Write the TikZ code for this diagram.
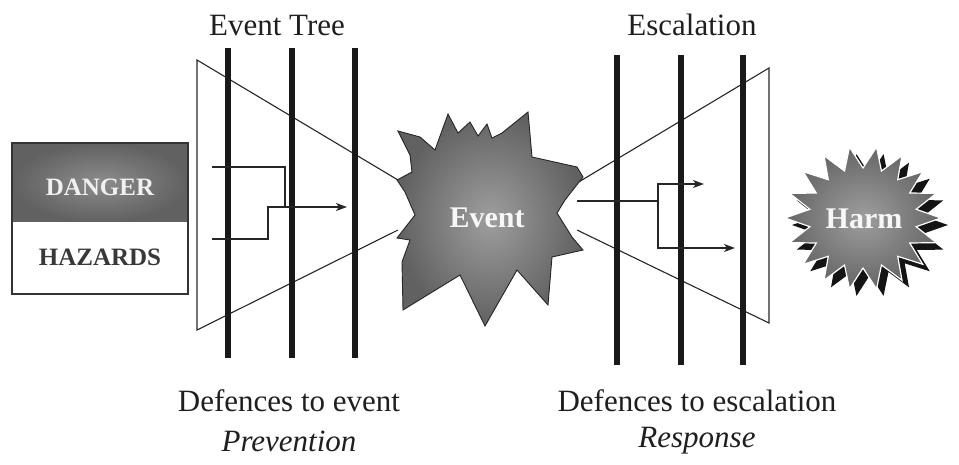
\documentclass[tikz,border=0pt]{standalone}
\usepackage{fontspec}
\setmainfont{Liberation Serif}
\usetikzlibrary{arrows.meta}
\begin{document}
\begin{tikzpicture}[x=1pt,y=-1pt,
  outline/.style={line width=1.1pt, draw=black!85},
  barline/.style={line width=5.5pt, draw=black!90},
  flow/.style={line width=1.4pt, draw=black!85},
  arr/.style={flow, -{Stealth[length=11pt,width=8pt,inset=3pt]}},
  txt/.style={font=\fontsize{31}{36}\selectfont, text=black!88, inner sep=0pt},
  boxtxt/.style={font=\fontsize{25}{30}\selectfont\bfseries, inner sep=0pt},
  burst/.style={font=\fontsize{30}{34}\selectfont\bfseries, text=black!3, inner sep=0pt}]
\useasboundingbox (0,0) rectangle (959,464);

% titles and captions
\node[txt] (tree) at (277,25) {Event Tree};
\node[txt] (esc) at (692,25) {Escalation};
\node[txt] (def1) at (289,401) {Defences to event};
\node[txt,font=\fontsize{31}{36}\selectfont\itshape] (prev) at (289,441) {Prevention};
\node[txt] (def2) at (697,401) {Defences to escalation};
\node[txt,font=\fontsize{31}{36}\selectfont\itshape] (resp) at (697,441) {Response};

% danger / hazards box
\shade[inner color=black!45, outer color=black!62] (12,143) rectangle (188,222);
\fill[white] (12,222) rectangle (188,294);
\draw[line width=1.6pt, draw=black!80] (12,143) rectangle (188,294);
\node[boxtxt, text=black!6] (danger) at (100,187) {DANGER};
\node[boxtxt, text=black!78] (hazards) at (100,257) {HAZARDS};

% left trapezoid
\coordinate (lt) at (398,180);
\coordinate (lb) at (398,230);
\draw[outline] (lt) -- (197,60) -- (197,330) -- (lb);
% right trapezoid
\coordinate (rt) at (577,183);
\coordinate (rb) at (577,230);
\draw[outline] (rt) -- (769,68) -- (769,323) -- (rb);

% defence bars
\draw[barline] (228,48) -- (228,358);
\draw[barline] (292,48) -- (292,358);
\draw[barline] (355,48) -- (355,358);
\draw[barline] (617,55) -- (617,365);
\draw[barline] (681,55) -- (681,365);
\draw[barline] (743,55) -- (743,365);

% left flows
\coordinate (l1) at (212,167);
\coordinate (l2) at (212,239);
\coordinate (lend) at (347,207);
\draw[flow] (l1) -| (285,207);
\draw[arr] (l2) -| (268,207) -- (lend);

% right flows
\coordinate (rs) at (577,201);
\coordinate (rj) at (658,201);
\coordinate (r1) at (704,184);
\coordinate (r2) at (735,248);
\draw[flow] (rs) -- (rj);
\draw[arr] (rj) |- (r1);
\draw[arr] (rj) |- (r2);

% event burst
\shadedraw[inner color=black!38, outer color=black!62, draw=black!85, line width=0.9pt]
 (398,131) -- (420,137) -- (435,150) -- (448,114) -- (458,133) -- (470,122) -- (478,136)
 -- (487,124) -- (492,138) -- (502,133) -- (528,112) -- (532,157) -- (577,167) -- (583,177)
 -- (565,200) -- (557,213) -- (572,237) -- (583,250) -- (552,257) -- (548,305) -- (517,270)
 -- (485,326) -- (460,275) -- (403,310) -- (402,262) -- (410,240) -- (397,238) -- (415,215)
 -- (405,192) -- (397,180) -- (412,172) -- (410,155) -- cycle;
\node[burst] (event) at (487,218) {Event};

% harm burst
\fill[black!92] plot[samples=37, domain=0:36, variable=\i]
  ({870+(66+12*cos(180*\i))*cos(10*\i)}, {225+(61+11*cos(180*\i))*sin(10*\i)}) -- cycle;
\shadedraw[inner color=black!38, outer color=black!60, draw=white, line width=1.2pt]
  plot[samples=37, domain=0:36, variable=\i]
  ({863+(66+12*cos(180*\i))*cos(10*\i)}, {218+(61+11*cos(180*\i))*sin(10*\i)}) -- cycle;
\node[burst] (harm) at (864,219) {Harm};
\end{tikzpicture}
\end{document}
